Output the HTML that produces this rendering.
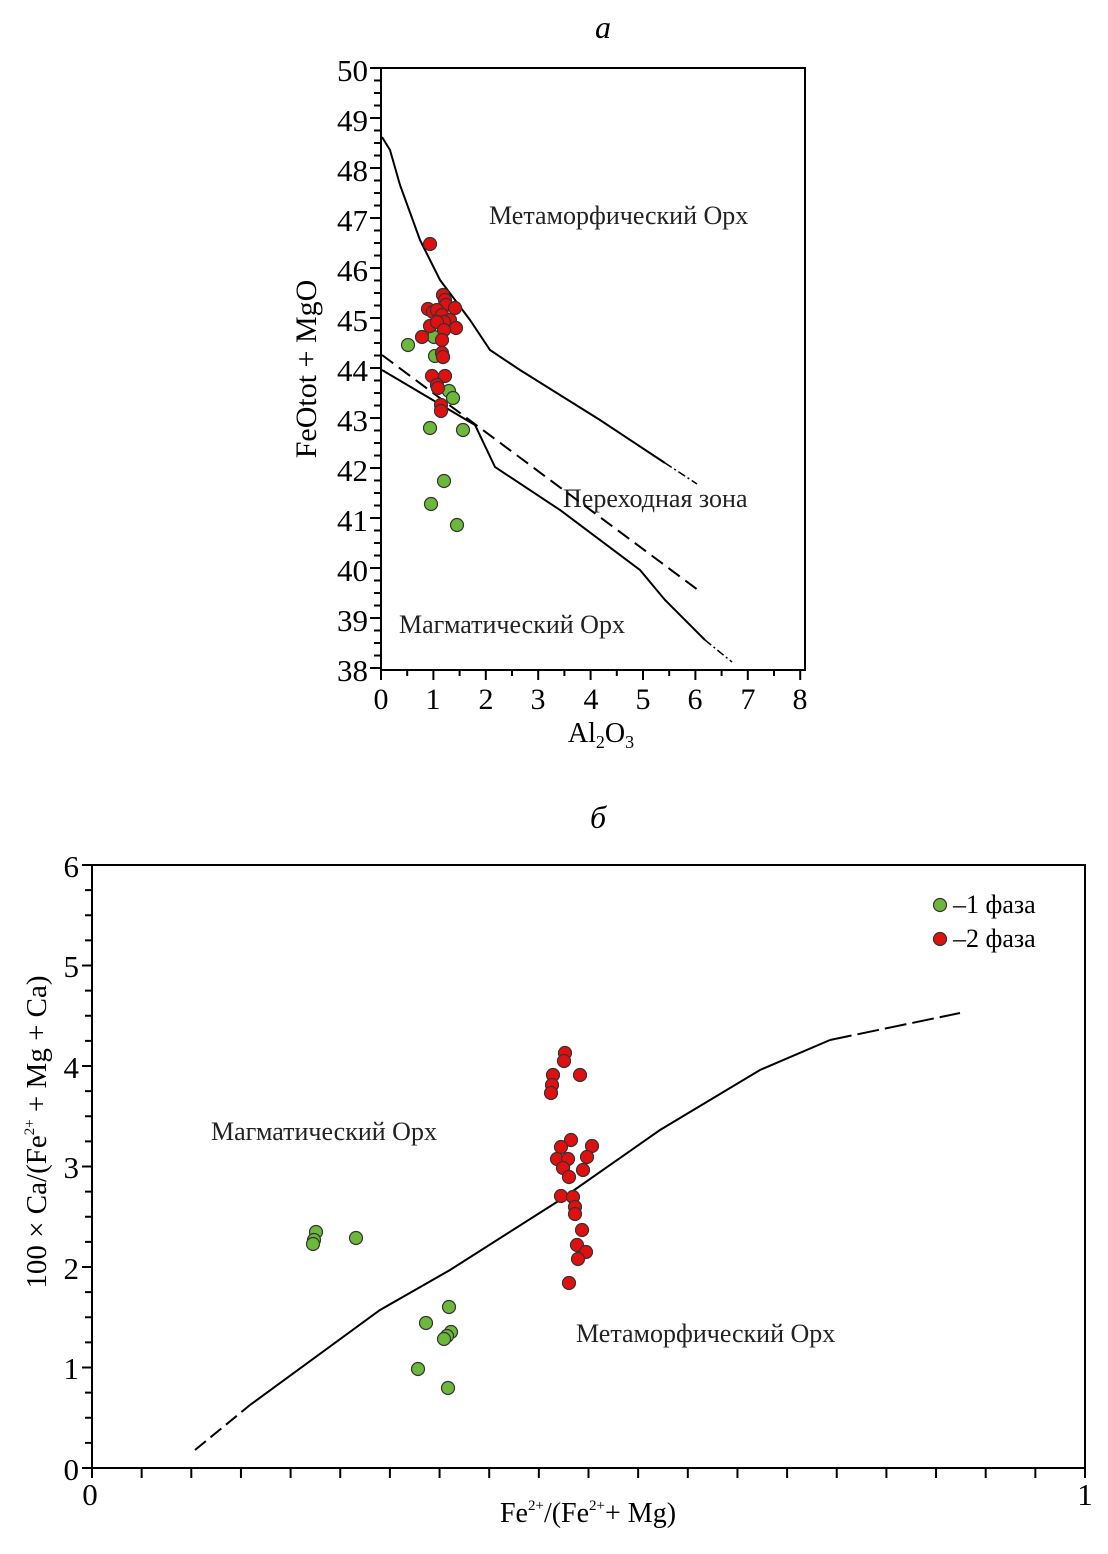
<!DOCTYPE html>
<html><head><meta charset="utf-8"><style>
html,body{margin:0;padding:0;background:#fff}
svg{display:block;font-family:"Liberation Serif",serif}
</style></head><body>
<svg width="1108" height="1554" viewBox="0 0 1108 1554" xmlns="http://www.w3.org/2000/svg">
<rect width="1108" height="1554" fill="#fff"/>
<!-- Chart a -->
<text x="603" y="38" font-size="32" font-style="italic" text-anchor="middle">a</text>
<rect x="381" y="68" width="424" height="602" fill="none" stroke="#000" stroke-width="2"/>
<g id="yticks" stroke="#000" stroke-width="2"></g>
<g font-size="31" text-anchor="end">
<text x="368" y="81">50</text><text x="368" y="131">49</text><text x="368" y="181">48</text><text x="368" y="231">47</text><text x="368" y="281">46</text><text x="368" y="331">45</text><text x="368" y="381">44</text><text x="368" y="431">43</text><text x="368" y="481">42</text><text x="368" y="531">41</text><text x="368" y="581">40</text><text x="368" y="631">39</text><text x="368" y="681">38</text>
</g>
<g font-size="30" text-anchor="middle">
<text x="381" y="709">0</text><text x="433" y="709">1</text><text x="486" y="709">2</text><text x="538" y="709">3</text><text x="591" y="709">4</text><text x="643" y="709">5</text><text x="695" y="709">6</text><text x="748" y="709">7</text><text x="800" y="709">8</text>
</g>
<text x="601" y="742" font-size="28" text-anchor="middle">Al<tspan font-size="18" dy="6">2</tspan><tspan dy="-6">O</tspan><tspan font-size="18" dy="6">3</tspan></text>
<text transform="translate(316,369) rotate(-90)" font-size="30" text-anchor="middle">FeOtot + MgO</text>
<g font-size="26" fill="#222">
<text x="489" y="224">Метаморфический Орх</text>
<text x="563" y="507">Переходная зона</text>
<text x="399" y="633">Магматический Орх</text>
</g>
<g fill="none" stroke="#000" stroke-width="2">
<polyline points="382,137 390,150 400,185 420,240 440,280 470,320 490,350 520,370 600,420 665,463"/>
<polyline points="665,463 697,484" stroke-dasharray="8,3,2,3" stroke-width="1.5"/>
<polyline points="382,355 698,590" stroke-dasharray="14,7"/>
<polyline points="382,370 475,425 495,467 560,510 640,570 665,600 705,640"/>
<polyline points="705,640 732,662" stroke-dasharray="8,3,2,3" stroke-width="1.5"/>
</g>
<g stroke="#333" stroke-width="1.2" fill="#6cb83a">
<circle cx="408" cy="345" r="6.5"/><circle cx="434" cy="337" r="6.5"/><circle cx="435" cy="356" r="6.5"/><circle cx="443" cy="357" r="6.5"/><circle cx="449" cy="391" r="6.5"/><circle cx="453" cy="398" r="6.5"/><circle cx="430" cy="428" r="6.5"/><circle cx="463" cy="430" r="6.5"/><circle cx="444" cy="481" r="6.5"/><circle cx="431" cy="504" r="6.5"/><circle cx="457" cy="525" r="6.5"/>
</g>
<g stroke="#333" stroke-width="1.2" fill="#e01010">
<circle cx="430" cy="244" r="6.5"/><circle cx="443" cy="295" r="6.5"/><circle cx="445" cy="300" r="6.5"/><circle cx="446" cy="305" r="6.5"/><circle cx="428" cy="309" r="6.5"/><circle cx="433" cy="312" r="6.5"/><circle cx="437" cy="310" r="6.5"/><circle cx="455" cy="308" r="6.5"/><circle cx="442" cy="315" r="6.5"/><circle cx="450" cy="320" r="6.5"/><circle cx="430" cy="326" r="6.5"/><circle cx="444" cy="322" r="6.5"/><circle cx="456" cy="328" r="6.5"/><circle cx="437" cy="322" r="6.5"/><circle cx="422" cy="337" r="6.5"/><circle cx="444" cy="330" r="6.5"/><circle cx="442" cy="340" r="6.5"/><circle cx="442" cy="353" r="6.5"/><circle cx="443" cy="357" r="6.5"/><circle cx="432" cy="376" r="6.5"/><circle cx="445" cy="376" r="6.5"/><circle cx="437" cy="385" r="6.5"/><circle cx="438" cy="388" r="6.5"/><circle cx="441" cy="405" r="6.5"/><circle cx="441" cy="411" r="6.5"/>
</g>

<!-- Chart b -->
<text x="598" y="828" font-size="32" font-style="italic" text-anchor="middle">б</text>
<rect x="92" y="865" width="993" height="603" fill="none" stroke="#000" stroke-width="2"/>
<g id="bticks" stroke="#000" stroke-width="2"></g>
<g font-size="31" text-anchor="end">
<text x="79" y="877">6</text><text x="79" y="977">5</text><text x="79" y="1078">4</text><text x="79" y="1178">3</text><text x="79" y="1279">2</text><text x="79" y="1379">1</text><text x="79" y="1480">0</text>
</g>
<text x="90" y="1505" font-size="31" text-anchor="middle">0</text>
<text x="1085" y="1505" font-size="31" text-anchor="middle">1</text>
<text x="588" y="1522" font-size="28" text-anchor="middle">Fe<tspan font-size="15" dy="-12">2+</tspan><tspan dy="12">/(Fe</tspan><tspan font-size="15" dy="-12">2+</tspan><tspan dy="12">+ Mg)</tspan></text>
<text transform="translate(46,1132) rotate(-90)" font-size="29" text-anchor="middle">100 × Ca/(Fe<tspan font-size="15" dy="-12">2+</tspan><tspan dy="12"> + Mg + Ca)</tspan></text>
<g font-size="26" fill="#222">
<text x="211" y="1140">Магматический Орх</text>
<text x="576" y="1342">Метаморфический Орх</text>
</g>
<circle cx="940" cy="905" r="6.5" fill="#6cb83a" stroke="#333" stroke-width="1.2"/>
<text x="953" y="913" font-size="26">–1 фаза</text>
<circle cx="940" cy="939" r="6.5" fill="#e01010" stroke="#333" stroke-width="1.2"/>
<text x="953" y="947" font-size="26">–2 фаза</text>
<g fill="none" stroke="#000" stroke-width="2">
<polyline points="195,1450 250,1405" stroke-dasharray="14,6"/>
<polyline points="250,1405 380,1310 450,1270 560,1200 660,1130 760,1070 830,1040"/>
<polyline points="830,1040 960,1013" stroke-dasharray="22,6"/>
</g>
<g stroke="#333" stroke-width="1.2" fill="#6cb83a">
<circle cx="316" cy="1232" r="6.5"/><circle cx="314" cy="1240" r="6.5"/><circle cx="313" cy="1244" r="6.5"/><circle cx="356" cy="1238" r="6.5"/><circle cx="426" cy="1323" r="6.5"/><circle cx="449" cy="1307" r="6.5"/><circle cx="451" cy="1332" r="6.5"/><circle cx="447" cy="1336" r="6.5"/><circle cx="444" cy="1339" r="6.5"/><circle cx="418" cy="1369" r="6.5"/><circle cx="448" cy="1388" r="6.5"/>
</g>
<g stroke="#333" stroke-width="1.2" fill="#e01010">
<circle cx="565" cy="1053" r="6.5"/><circle cx="564" cy="1061" r="6.5"/><circle cx="553" cy="1075" r="6.5"/><circle cx="552" cy="1085" r="6.5"/><circle cx="551" cy="1093" r="6.5"/><circle cx="580" cy="1075" r="6.5"/><circle cx="571" cy="1140" r="6.5"/><circle cx="561" cy="1147" r="6.5"/><circle cx="592" cy="1146" r="6.5"/><circle cx="557" cy="1159" r="6.5"/><circle cx="568" cy="1159" r="6.5"/><circle cx="587" cy="1157" r="6.5"/><circle cx="563" cy="1168" r="6.5"/><circle cx="569" cy="1177" r="6.5"/><circle cx="583" cy="1170" r="6.5"/><circle cx="561" cy="1196" r="6.5"/><circle cx="573" cy="1197" r="6.5"/><circle cx="575" cy="1207" r="6.5"/><circle cx="575" cy="1214" r="6.5"/><circle cx="582" cy="1230" r="6.5"/><circle cx="577" cy="1245" r="6.5"/><circle cx="586" cy="1252" r="6.5"/><circle cx="578" cy="1259" r="6.5"/><circle cx="569" cy="1283" r="6.5"/>
</g>
</svg>
<script>
(function(){
var ns="http://www.w3.org/2000/svg";
function ln(g,x1,y1,x2,y2){var l=document.createElementNS(ns,"line");l.setAttribute("x1",x1);l.setAttribute("y1",y1);l.setAttribute("x2",x2);l.setAttribute("y2",y2);g.appendChild(l);}
var a=document.getElementById("yticks");
for(var i=0;i<=48;i++){var y=68+i*12.5;ln(a,i%4==0?370:374,y,381,y);}
for(var j=0;j<=16;j++){var x=381+j*26.2;ln(a,x,670,x,j%2==0?680:676);}
var b=document.getElementById("bticks");
for(var k=0;k<=24;k++){var y2=865+k*25.125;ln(b,k%4==0?82:85,y2,92,y2);}
for(var m=0;m<=20;m++){var x2=92+m*49.65;ln(b,x2,1468,x2,1478);}
})();
</script>
</body></html>
